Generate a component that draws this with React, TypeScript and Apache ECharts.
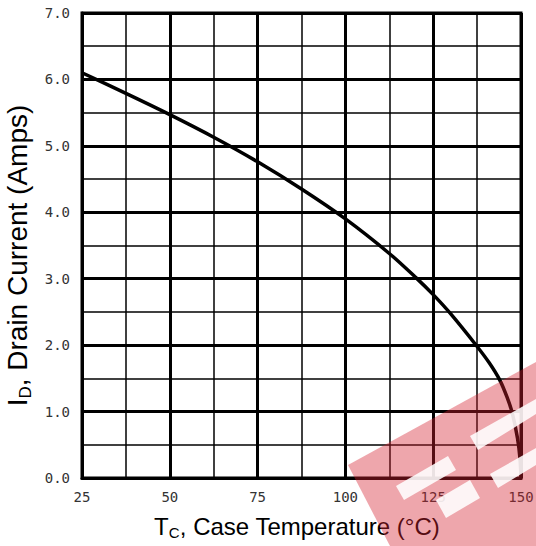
import React, { useEffect, useRef } from "react";
import * as echarts from "echarts";

// Case temperature (°C) and drain current (A)
const tempC: number[] = [25, 37.5, 50, 62.5, 75, 87.5, 100, 112.5, 120, 125, 130, 137.5, 141, 144, 146, 147.5, 149, 149.7, 150];
const drainA: number[] = [6.1, 5.79, 5.47, 5.13, 4.76, 4.35, 3.9, 3.38, 3.02, 2.76, 2.47, 1.98, 1.73, 1.47, 1.22, 0.98, 0.6, 0.3, 0.0];

const xTicks = { min: 25, max: 150, step: 25 };
const yTicks = { min: 0, max: 7, step: 1 };

export default function App() {
  const ref = useRef<HTMLDivElement>(null);
  useEffect(() => {
    document.body.style.margin = "0";
    if (!ref.current) return;
    const chart = echarts.init(ref.current, undefined, { renderer: "svg" });
    const points = tempC.map((t, i) => [t, drainA[i]]);
    const labelFont = "'DejaVu Sans Mono', 'Liberation Mono', monospace";
    const nameFont = "'Liberation Sans', Arial, sans-serif";
    const white = { fill: "#ffffff", opacity: 0.88 };
    chart.setOption({
      animation: false,
      backgroundColor: "#ffffff",
      grid: {
        left: 82, right: 15, top: 13, bottom: 68,
        outerBoundsMode: "none",
        containLabel: false,
        show: true, borderColor: "#000", borderWidth: 3,
      },
      xAxis: {
        type: "value",
        min: xTicks.min,
        max: xTicks.max,
        interval: xTicks.step,
        axisLine: { show: true, lineStyle: { color: "#000", width: 3 } },
        axisTick: { show: false },
        minorTick: { show: false, splitNumber: 2 },
        splitLine: { show: true, lineStyle: { color: "#000", width: 3 } },
        minorSplitLine: { show: true, lineStyle: { color: "#000", width: 1.5 } },
        axisLabel: { color: "#333", fontFamily: labelFont, fontSize: 14, margin: 12 },
        name: "{m|T}{s|C}{m|, Case Temperature (°C)}",
        nameLocation: "middle",
        nameGap: 34,
        nameTextStyle: {
          padding: [0, 9, 0, 0],
          rich: {
            m: { fontFamily: nameFont, fontSize: 24, color: "#000", lineHeight: 28 },
            s: { fontFamily: nameFont, fontSize: 15, color: "#000", lineHeight: 28, verticalAlign: "bottom", padding: [12, 0, 0, 0] },
          },
        },
      },
      yAxis: {
        type: "value",
        min: yTicks.min,
        max: yTicks.max,
        interval: yTicks.step,
        axisLine: { show: true, lineStyle: { color: "#000", width: 3 } },
        axisTick: { show: false },
        minorTick: { show: false, splitNumber: 2 },
        splitLine: { show: true, lineStyle: { color: "#000", width: 3 } },
        minorSplitLine: { show: true, lineStyle: { color: "#000", width: 1.5 } },
        axisLabel: { color: "#333", fontFamily: labelFont, fontSize: 14, margin: 12, formatter: (v: number) => v.toFixed(1) },
        name: "{m|I}{s|D}{m|, Drain Current (Amps)}",
        nameLocation: "middle",
        nameGap: 48,
        nameRotate: 90,
        nameTextStyle: {
          padding: [0, 20, 0, 0],
          rich: {
            m: { fontFamily: nameFont, fontSize: 28, color: "#000", lineHeight: 32 },
            s: { fontFamily: nameFont, fontSize: 17, color: "#000", lineHeight: 32, verticalAlign: "bottom", padding: [14, 0, 0, 0] },
          },
        },
      },
      series: [
        {
          type: "line",
          data: points,
          smooth: 0.3,
          showSymbol: false,
          lineStyle: { color: "#000", width: 3.5 },
          z: 5,
        },
      ],
      graphic: [
        {
          type: "polygon",
          z: 100,
          silent: true,
          shape: { points: [[348, 465], [536, 362], [536, 546], [390, 546]] },
          style: { fill: "#d4202f", opacity: 0.4 },
        },
        { type: "polygon", z: 101, silent: true, shape: { points: [[396, 486], [448, 456], [456, 470], [404, 500]] }, style: white },
        { type: "polygon", z: 101, silent: true, shape: { points: [[436, 500], [470, 480], [480, 498], [446, 518]] }, style: white },
        { type: "polygon", z: 101, silent: true, shape: { points: [[470, 436], [536, 399], [536, 414], [478, 450]] }, style: white },
        { type: "polygon", z: 101, silent: true, shape: { points: [[490, 474], [536, 448], [536, 465], [498, 488]] }, style: white },
      ],
    });
    return () => chart.dispose();
  }, []);
  return <div ref={ref} style={{ width: 536, height: 546 }} />;
}
